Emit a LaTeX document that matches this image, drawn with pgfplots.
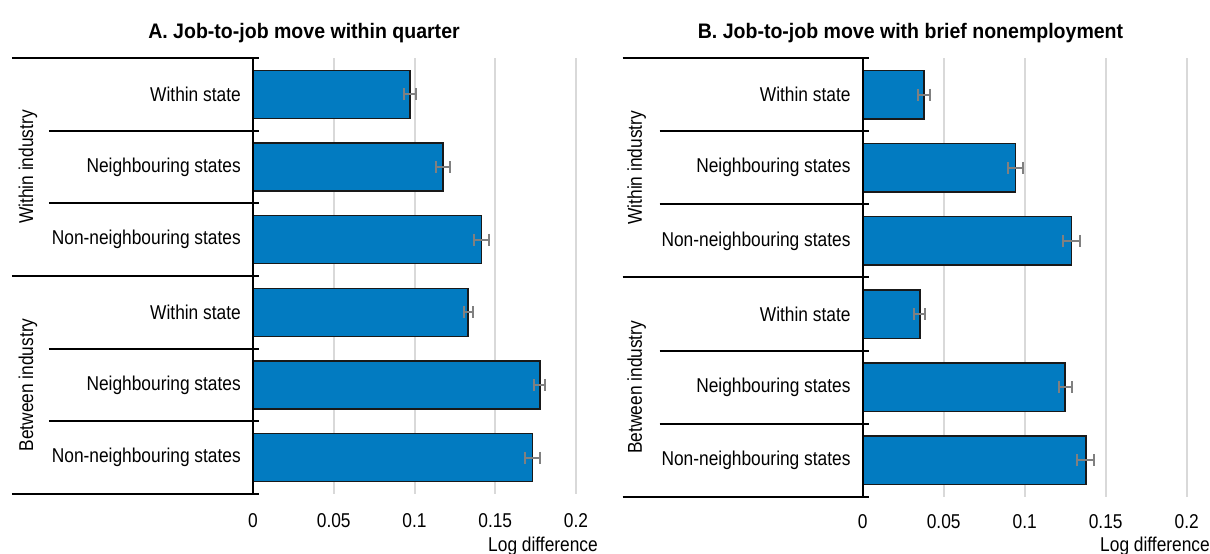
\documentclass[border=0pt]{standalone}
\usepackage{fontspec}
\setmainfont{Liberation Sans}[FakeStretch=0.867]
\newfontfamily\titlefont{Liberation Sans}[FakeStretch=0.93]
\usepackage{pgfplots}
\pgfplotsset{compat=1.18}
\usepackage{pgfplotstable}
\definecolor{barblue}{RGB}{2,123,193}
\definecolor{gridgray}{RGB}{217,217,217}
\definecolor{errgray}{RGB}{128,128,128}
\newcommand\lbl{\fontsize{20pt}{24pt}\selectfont}

% y = row position (6 = top), x = log difference, ex = error half-width
\pgfplotstableread{
y x ex
6 0.0973 0.0035
5 0.1176 0.0044
4 0.1414 0.0047
3 0.1332 0.0028
2 0.1776 0.0034
1 0.1731 0.0045
}\dataA
\pgfplotstableread{
y x ex
6 0.0377 0.0036
5 0.0944 0.0046
4 0.1290 0.0054
3 0.0353 0.0034
2 0.1249 0.0040
1 0.1377 0.0052
}\dataB

\pgfplotsset{
 panel/.style={
  scale only axis, xbar, clip=false,
  xmin=0, xmax=0.2, ymin=0.5, ymax=6.5,
  axis line style={draw=none},
  major tick length=0pt,
  xtick={0,0.05,0.1,0.15,0.2},
  xticklabels={0,0.05,0.1,0.15,0.2},
  ytick={1,2,3,4,5,6},
  yticklabels={Non-neighbouring states,Neighbouring states,Within state,Non-neighbouring states,Neighbouring states,Within state},
  tick label style={font=\lbl},
  yticklabel style={anchor=east, inner sep=0pt, xshift=-12pt},
  xticklabel style={anchor=base, inner sep=0pt},
  xmajorgrids, grid style={gridgray, line width=2pt},
  /pgf/number format/assume math mode=true,
 },
 bars/.style={fill=barblue, draw=black!90, line width=1.5pt,
  error bars/.cd, x dir=both, x explicit,
  error bar style={errgray, line width=2pt},
  error mark options={errgray, line width=2pt, mark size=6pt, rotate=90}},
}

\begin{document}
\begin{tikzpicture}
\useasboundingbox (0,0) rectangle (1210pt,554pt);

% Panel A
\begin{axis}[panel, at={(253pt,60pt)}, anchor=south west, width=323pt, height=436pt,
  bar width=48pt, xticklabel style={yshift=-34pt}]
\addplot[bars] table[x=x, y=y, x error=ex]{\dataA};
\draw[black, line width=2pt] (axis cs:0,0.5) -- (axis cs:0,6.5);
\draw[black, line width=2pt] ([xshift=-241pt]axis cs:0,6.5) -- ([xshift=6pt]axis cs:0,6.5);
\draw[black, line width=2pt] ([xshift=-241pt]axis cs:0,3.5) -- ([xshift=6pt]axis cs:0,3.5);
\draw[black, line width=2pt] ([xshift=-241pt]axis cs:0,0.5) -- ([xshift=6pt]axis cs:0,0.5);
\draw[black, line width=2pt] ([xshift=-204pt]axis cs:0,5.5) -- ([xshift=6pt]axis cs:0,5.5);
\draw[black, line width=2pt] ([xshift=-204pt]axis cs:0,4.5) -- ([xshift=6pt]axis cs:0,4.5);
\draw[black, line width=2pt] ([xshift=-204pt]axis cs:0,2.5) -- ([xshift=6pt]axis cs:0,2.5);
\draw[black, line width=2pt] ([xshift=-204pt]axis cs:0,1.5) -- ([xshift=6pt]axis cs:0,1.5);
\node[rotate=90, font=\lbl, inner sep=0pt] at ([xshift=-225pt]axis cs:0,5) {Within industry};
\node[rotate=90, font=\lbl, inner sep=0pt] at ([xshift=-225pt]axis cs:0,2) {Between industry};
\end{axis}

% Panel B
\begin{axis}[panel, at={(862.7pt,57pt)}, anchor=south west, width=324pt, height=439pt,
  bar width=48.5pt, xticklabel style={yshift=-31pt}]
\addplot[bars] table[x=x, y=y, x error=ex]{\dataB};
\draw[black, line width=2pt] (axis cs:0,0.5) -- (axis cs:0,6.5);
\draw[black, line width=2pt] ([xshift=-240pt]axis cs:0,6.5) -- ([xshift=6pt]axis cs:0,6.5);
\draw[black, line width=2pt] ([xshift=-240pt]axis cs:0,3.5) -- ([xshift=6pt]axis cs:0,3.5);
\draw[black, line width=2pt] ([xshift=-240pt]axis cs:0,0.5) -- ([xshift=6pt]axis cs:0,0.5);
\draw[black, line width=2pt] ([xshift=-203pt]axis cs:0,5.5) -- ([xshift=6pt]axis cs:0,5.5);
\draw[black, line width=2pt] ([xshift=-203pt]axis cs:0,4.5) -- ([xshift=6pt]axis cs:0,4.5);
\draw[black, line width=2pt] ([xshift=-203pt]axis cs:0,2.5) -- ([xshift=6pt]axis cs:0,2.5);
\draw[black, line width=2pt] ([xshift=-203pt]axis cs:0,1.5) -- ([xshift=6pt]axis cs:0,1.5);
\node[rotate=90, font=\lbl, inner sep=0pt] at ([xshift=-226pt]axis cs:0,5) {Within industry};
\node[rotate=90, font=\lbl, inner sep=0pt] at ([xshift=-226pt]axis cs:0,2) {Between industry};
\end{axis}

\node[anchor=base, inner sep=0pt, font=\titlefont\bfseries\fontsize{21pt}{25pt}\selectfont] at (304pt,515.7pt) {A. Job-to-job move within quarter};
\node[anchor=base, inner sep=0pt, font=\titlefont\bfseries\fontsize{21pt}{25pt}\selectfont] at (910.5pt,515.7pt) {B. Job-to-job move with brief nonemployment};
\node[anchor=base east, inner sep=0pt, font=\lbl] at (598pt,2pt) {Log difference};
\node[anchor=base east, inner sep=0pt, font=\lbl] at (1210pt,2pt) {Log difference};
\end{tikzpicture}
\end{document}
